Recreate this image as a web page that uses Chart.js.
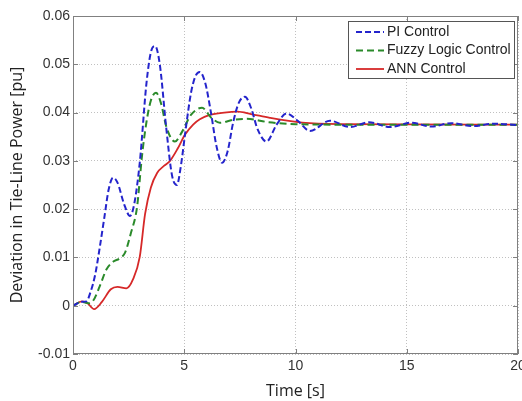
<!DOCTYPE html>
<html>
<head>
    <title>Deviation in Tie-Line Power</title>
    <script src="https://cdn.jsdelivr.net/npm/chart.js"></script>
    <style>
        body { margin: 0; background: #fff; }
        #wrap { width: 522px; height: 401px; }
    </style>
</head>
<body>
    <div id="wrap"><canvas id="grafico"></canvas></div>

    <script>
        // Valores (tempo em s, desvio em pu)
        const piTime = [0, 0.4, 0.6, 0.8, 1.0, 1.2, 1.4, 1.6, 1.8, 2.0, 2.3, 2.56, 2.75, 3.0, 3.3, 3.5, 3.69, 3.9, 4.2, 4.45, 4.67, 4.85, 5.05, 5.3, 5.5, 5.7, 5.95, 6.2, 6.45, 6.7, 6.95, 7.2, 7.45, 7.73, 8.0, 8.3, 8.7, 9.15, 9.6, 10.1, 10.65, 11.55, 12.45, 13.3, 14.25, 15.2, 16.1, 17.0, 18.0, 18.9, 20];
        const piValue = [0, 0.0008, 0.0009, 0.003, 0.0065, 0.012, 0.018, 0.024, 0.0265, 0.0255, 0.021, 0.0186, 0.021, 0.0296, 0.046, 0.0525, 0.0538, 0.050, 0.0364, 0.027, 0.025, 0.029, 0.036, 0.044, 0.0475, 0.0484, 0.046, 0.040, 0.033, 0.0296, 0.032, 0.038, 0.042, 0.0433, 0.041, 0.0365, 0.034, 0.0375, 0.0398, 0.0383, 0.0362, 0.0383, 0.037, 0.038, 0.037, 0.0379, 0.0371, 0.0378, 0.0372, 0.0377, 0.0374];

        const fuzzyTime = [0, 0.4, 0.7, 0.9, 1.2, 1.5, 1.8, 2.1, 2.34, 2.6, 2.88, 3.1, 3.3, 3.5, 3.73, 3.95, 4.2, 4.58, 4.9, 5.3, 5.8, 6.2, 6.6, 7.2, 7.8, 8.8, 10, 12, 20];
        const fuzzyValue = [0, 0.0008, 0.0005, 0.001, 0.004, 0.0075, 0.0091, 0.0098, 0.011, 0.015, 0.0205, 0.031, 0.038, 0.0425, 0.0441, 0.042, 0.037, 0.034, 0.036, 0.0395, 0.041, 0.039, 0.0379, 0.0385, 0.0387, 0.038, 0.0376, 0.0375, 0.0375];

        const annTime = [0, 0.4, 0.65, 0.95, 1.3, 1.7, 2.0, 2.4, 2.7, 3.0, 3.24, 3.5, 3.78, 4.1, 4.36, 4.7, 5.03, 5.4, 5.7, 6.15, 6.8, 7.4, 8.0, 8.85, 10.3, 12, 20];
        const annValue = [0, 0.0009, 0.0005, -0.0007, 0.0008, 0.0034, 0.0039, 0.0036, 0.0055, 0.0101, 0.019, 0.0245, 0.0275, 0.029, 0.030, 0.0325, 0.0354, 0.0375, 0.0386, 0.0395, 0.040, 0.0402, 0.0397, 0.0389, 0.0379, 0.0376, 0.0375];

        const seriesNames = ['PI Control', 'Fuzzy Logic Control', 'ANN Control'];
        const xTicks = [0, 5, 10, 15, 20];
        const yTicks = [-0.01, 0, 0.01, 0.02, 0.03, 0.04, 0.05, 0.06];

        function pares(t, v) {
            return t.map((x, i) => ({ x: x, y: v[i] }));
        }

        const tickFont = { family: 'Liberation Sans', size: 14 };
        const titleFont = { family: 'Open Sans', size: 16 };

        // moldura, marcas internas e legenda no estilo MATLAB
        const molduraPlugin = {
            id: 'moldura',
            afterDatasetsDraw(chart) {
                const ctx = chart.ctx;
                const a = chart.chartArea;
                const xs = chart.scales.x, ys = chart.scales.y;
                ctx.save();
                ctx.strokeStyle = '#808080';
                ctx.lineWidth = 1;
                ctx.setLineDash([]);
                ctx.strokeRect(a.left + 0.5, a.top + 0.5, a.right - a.left - 1, a.bottom - a.top - 1);
                ctx.beginPath();
                xTicks.forEach(t => {
                    const px = Math.round(xs.getPixelForValue(t)) + 0.5;
                    ctx.moveTo(px, a.bottom); ctx.lineTo(px, a.bottom - 5);
                    ctx.moveTo(px, a.top); ctx.lineTo(px, a.top + 5);
                });
                yTicks.forEach(t => {
                    const py = Math.round(ys.getPixelForValue(t)) + 0.5;
                    ctx.moveTo(a.left, py); ctx.lineTo(a.left + 5, py);
                    ctx.moveTo(a.right, py); ctx.lineTo(a.right - 5, py);
                });
                ctx.stroke();

                // legenda
                const bx = 348, by = 21, bw = 166, bh = 57;
                ctx.fillStyle = '#fff';
                ctx.fillRect(bx, by, bw, bh);
                ctx.strokeStyle = '#555';
                ctx.strokeRect(bx + 0.5, by + 0.5, bw, bh);
                ctx.font = '14px "Liberation Sans"';
                ctx.textBaseline = 'middle';
                chart.data.datasets.forEach((ds, i) => {
                    const y = by + 11 + i * 18.5;
                    ctx.strokeStyle = ds.borderColor;
                    ctx.lineWidth = ds.borderWidth;
                    ctx.setLineDash(ds.borderDash || []);
                    ctx.beginPath();
                    ctx.moveTo(bx + 8, y);
                    ctx.lineTo(bx + 36, y);
                    ctx.stroke();
                    ctx.setLineDash([]);
                    ctx.fillStyle = '#222';
                    ctx.fillText(ds.label, bx + 39, y);
                });
                ctx.restore();
            }
        };

        const ctx = document.getElementById('grafico').getContext('2d');
        const myChart = new Chart(ctx, {
            type: 'line',
            data: {
                datasets: [{
                    label: seriesNames[0],
                    data: pares(piTime, piValue),
                    borderColor: '#2424cc',
                    borderWidth: 2,
                    borderDash: [6, 3],
                    pointRadius: 0,
                    cubicInterpolationMode: 'monotone'
                }, {
                    label: seriesNames[1],
                    data: pares(fuzzyTime, fuzzyValue),
                    borderColor: '#2a8a2a',
                    borderWidth: 2,
                    borderDash: [7, 4],
                    pointRadius: 0,
                    cubicInterpolationMode: 'monotone'
                }, {
                    label: seriesNames[2],
                    data: pares(annTime, annValue),
                    borderColor: '#d62828',
                    borderWidth: 1.8,
                    pointRadius: 0,
                    cubicInterpolationMode: 'monotone'
                }]
            },
            options: {
                responsive: true,
                maintainAspectRatio: false,
                animation: false,
                layout: { padding: { top: 16, right: 4, left: 0, bottom: 0 } },
                plugins: {
                    legend: { display: false },
                    tooltip: { enabled: false }
                },
                scales: {
                    x: {
                        type: 'linear',
                        min: 0,
                        max: 20,
                        afterBuildTicks: s => { s.ticks = xTicks.map(v => ({ value: v })); },
                        afterFit: s => { s.height = 47; s.paddingRight = 0; s.paddingLeft = 0; },
                        grid: { color: '#c0c0c0', drawTicks: false },
                        border: { display: false, dash: [1, 2] },
                        ticks: { font: tickFont, color: '#333', padding: 4, maxRotation: 0 },
                        title: { display: true, text: 'Time [s]', font: titleFont, color: '#222', padding: { top: 2, bottom: 0 } }
                    },
                    y: {
                        min: -0.01,
                        max: 0.06,
                        afterBuildTicks: s => { s.ticks = yTicks.map(v => ({ value: v })); },
                        afterFit: s => { s.width = 73; s.paddingTop = 0; s.paddingBottom = 0; },
                        grid: { color: '#c0c0c0', drawTicks: false },
                        border: { display: false, dash: [1, 2] },
                        ticks: {
                            font: tickFont,
                            color: '#333',
                            padding: 3,
                            callback: v => Math.abs(v) < 1e-9 ? '0' : v.toFixed(2)
                        },
                        title: { display: true, text: 'Deviation in Tie-Line Power [pu]', font: titleFont, color: '#222', padding: { top: 8, bottom: 4 } }
                    }
                }
            },
            plugins: [molduraPlugin]
        });
    </script>
</body>
</html>
